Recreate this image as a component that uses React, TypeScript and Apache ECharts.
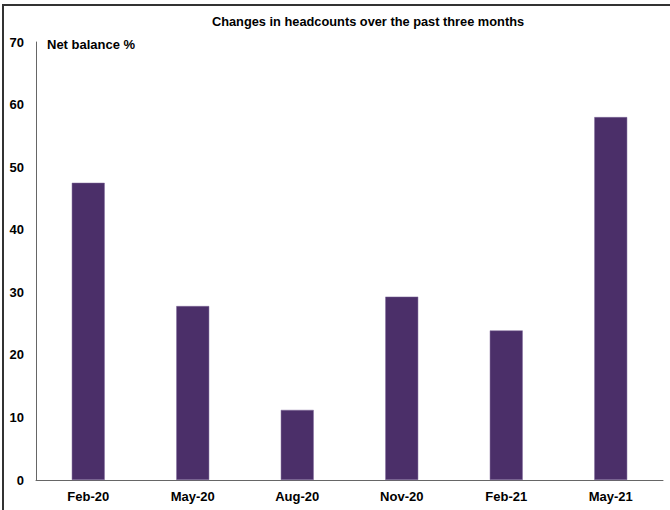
import React, { useEffect, useRef } from "react";
import * as echarts from "echarts";

const categories = ["Feb-20", "May-20", "Aug-20", "Nov-20", "Feb-21", "May-21"];
const netBalance = [47.5, 27.8, 11.2, 29.3, 23.9, 58.0];
const title = "Changes in headcounts over the past three months";
const axisTitle = "Net balance %";

export default function App() {
  const ref = useRef<HTMLDivElement>(null);
  useEffect(() => {
    if (!ref.current) return;
    const chart = echarts.init(ref.current, undefined, { renderer: "svg" });
    const font = "'Liberation Sans', Arial, sans-serif";
    chart.setOption({
      animation: false,
      backgroundColor: "#ffffff",
      textStyle: { fontFamily: font },
      title: {
        text: title,
        left: 363,
        textAlign: "center",
        top: 10,
        textStyle: { fontSize: 12.8, fontWeight: "bold", color: "#000", fontFamily: font },
      },
      grid: { left: 36, right: 7, top: 42, bottom: 30, containLabel: false },
      xAxis: {
        type: "category",
        data: categories,
        axisLine: { show: true, lineStyle: { color: "#666", width: 1 } },
        axisTick: { show: false },
        axisLabel: { fontSize: 13, fontWeight: "bold", color: "#000", margin: 10, fontFamily: font },
      },
      yAxis: {
        type: "value",
        min: 0,
        max: 70,
        interval: 10,
        axisLine: { show: true, lineStyle: { color: "#666", width: 1 } },
        axisTick: { show: false },
        splitLine: { show: false },
        axisLabel: { fontSize: 13, fontWeight: "bold", color: "#000", margin: 12, fontFamily: font },
      },
      series: [
        {
          type: "bar",
          data: netBalance,
          barWidth: "31.5%",
          itemStyle: { color: "#4b2f69", borderColor: "#7d6699", borderWidth: 0.5 },
        },
      ],
      graphic: [
        {
          type: "text",
          left: 47,
          top: 38,
          style: { text: axisTitle, fontSize: 13, fontWeight: "bold", fill: "#000", fontFamily: font },
        },
        {
          type: "line",
          shape: { x1: 2, y1: 5, x2: 670, y2: 5 },
          style: { stroke: "#333", lineWidth: 2 },
        },
        {
          type: "line",
          shape: { x1: 3, y1: 4, x2: 3, y2: 510 },
          style: { stroke: "#333", lineWidth: 2 },
        },
      ],
    });
    return () => chart.dispose();
  }, []);
  return (
    <div
      ref={ref}
      style={{ position: "fixed", left: 0, top: 0, width: 670, height: 510 }}
    />
  );
}
